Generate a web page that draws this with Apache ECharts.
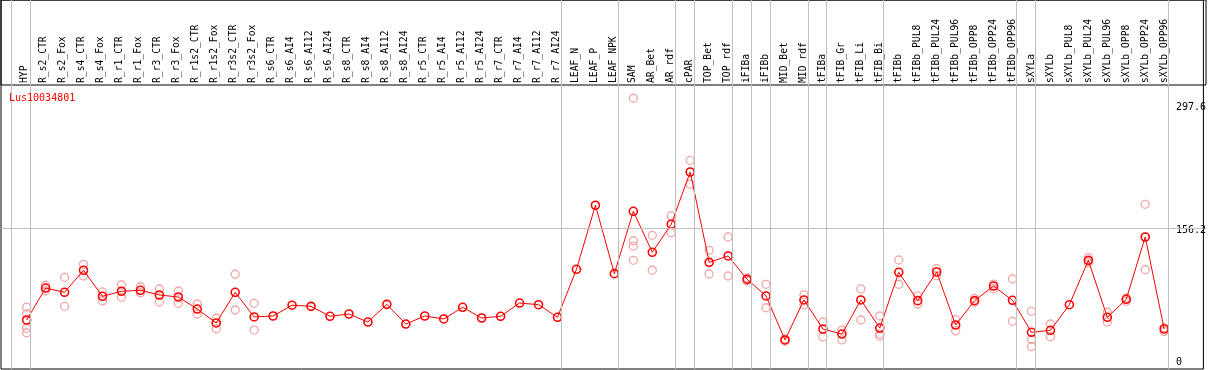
<!DOCTYPE html>
<html>
<head>
<meta charset="utf-8">
<script src="https://cdn.jsdelivr.net/npm/echarts@6/dist/echarts.min.js"></script>
<style>
html,body{margin:0;padding:0;background:#fff;}
#chart{width:1209px;height:370px;}
</style>
</head>
<body>
<div id="chart"></div>
<script>
const geneName = 'Lus10034801';
const categories = ['HYP','R_s2_CTR','R_s2_Fox','R_s4_CTR','R_s4_Fox','R_r1_CTR','R_r1_Fox','R_r3_CTR','R_r3_Fox',
  'R_r1s2_CTR','R_r1s2_Fox','R_r3s2_CTR','R_r3s2_Fox','R_s6_CTR','R_s6_AI4','R_s6_AI12','R_s6_AI24',
  'R_s8_CTR','R_s8_AI4','R_s8_AI12','R_s8_AI24','R_r5_CTR','R_r5_AI4','R_r5_AI12','R_r5_AI24',
  'R_r7_CTR','R_r7_AI4','R_r7_AI12','R_r7_AI24','LEAF_N','LEAF_P','LEAF_NPK','SAM','AR_Bet','AR_rdf',
  'cPAR','TOP_Bet','TOP_rdf','iFIBa','iFIBb','MID_Bet','MID_rdf','tFIBa','tFIB_Gr','tFIB_Li','tFIB_Bi',
  'tFIBb','tFIBb_PUL8','tFIBb_PUL24','tFIBb_PUL96','tFIBb_OPP8','tFIBb_OPP24','tFIBb_OPP96',
  'sXYLa','sXYLb','sXYLb_PUL8','sXYLb_PUL24','sXYLb_PUL96','sXYLb_OPP8','sXYLb_OPP24','sXYLb_OPP96'];
const means = [51.4,88.1,83.2,108.5,78.6,84.4,85.5,80.1,77.8,64.0,48.0,83.2,54.9,56.0,68.4,67.1,55.7,
  58.3,49.1,69.4,46.8,56.0,52.6,66.0,53.7,55.7,70.9,69.0,54.5,109.6,183.1,104.6,176.2,129.1,161.3,
  221.3,117.6,124.9,98.1,79.0,28.5,74.4,41.1,35.3,74.4,42.2,106.2,73.6,106.5,45.7,73.6,90.4,74.0,
  37.3,39.6,69.0,119.9,54.5,75.2,146.7,41.1];
const replicates = [
  [66.3,58.3,41.9,36.8],[91.3,85.0],[100.4,67.1],[115.3,101.9],[83.6,73.2],[91.6,77.5],[89.6,82.7],
  [87.0,72.1],[84.7,70.6],[69.8,58.3],[53.4,41.4],[103.9,62.9],[70.6,39.9],
  [],[],[],[],[],[],[],[],[],[],[],[],[],[],[],[],
  [],[],[],[305.9,142.4,136.3,119.9],[148.6,108.5],[170.8,151.6],[234.7,207.2],[131.4,104.2],[146.7,101.9],
  [99.6,96.2],[92.4,65.5],[29.6,27.3],[80.3,68.6],[49.1,31.9],[39.9,28.5],[87.0,51.4],[56.0,35.3,33.0],
  [120.3,92.4],[79.0,69.8],[110.3,102.3],[51.8,39.1],[76.3,71.7],[92.7,87.3],[98.5,49.9],
  [61.4,29.3,20.8],[46.8,32.3],[],[123.4,117.2],[60.3,49.1],[76.7,72.9],[184.2,109.1],[42.6,38.4]
];
const separatorAfter = [-1,0,28,31,34,35,37,38,39,41,42,45,52,53,60];
const yLabelValues = [0,156.2,297.6];

const lineData = means.map((v,i)=>[i,v]);
const repData = [];
replicates.forEach((arr,i)=>arr.forEach(v=>repData.push([i,v])));

const FONT = 'DejaVu Sans Mono';
const GRAY = '#c0c0c0';

const chart = echarts.init(document.getElementById('chart'), null, {renderer:'canvas'});
chart.setOption({
  animation:false,
  backgroundColor:'#fff',
  title:{text:geneName,left:9,top:93,padding:0,
    textStyle:{color:'#ff0000',fontFamily:FONT,fontSize:10,fontWeight:'normal'}},
  grid:[
    {left:1,right:3,top:0,bottom:1,show:true,borderColor:'#000',borderWidth:1,backgroundColor:'transparent'},
    {left:1,right:3,top:0,height:85,show:true,borderColor:'#000',borderWidth:1,backgroundColor:'transparent'},
    {left:14.7,right:35.3,top:0,height:83}
  ],
  xAxis:[
    {type:'value',gridIndex:0,min:-1.3526,max:62.0684,show:false},
    {type:'value',gridIndex:1,show:false},
    {type:'category',gridIndex:2,data:categories,position:'bottom',boundaryGap:true,
      axisLine:{show:false},axisTick:{show:false},splitLine:{show:false},
      axisLabel:{inside:true,rotate:90,margin:0,interval:0,fontFamily:FONT,fontSize:9.7,color:'#000'}}
  ],
  yAxis:[
    {type:'value',gridIndex:0,min:-4.82,max:418.69,position:'right',
      axisLine:{show:false},axisTick:{show:false},splitLine:{show:false},
      axisLabel:{customValues:yLabelValues,inside:true,align:'left',margin:27.5,color:'#000',
        fontFamily:FONT,fontSize:10,
        formatter:function(v){return v===0?'{b|0}':'{a|'+v+'}';},
        rich:{a:{fontFamily:FONT,fontSize:10,color:'#000',padding:[4,0,0,0]},
              b:{fontFamily:FONT,fontSize:10,color:'#000',padding:[0,0,5,0]}}}},
    {type:'value',gridIndex:1,show:false},
    {type:'value',gridIndex:2,show:false}
  ],
  series:[
    {type:'scatter',xAxisIndex:0,yAxisIndex:0,data:[[0,-100]],symbolSize:0,silent:true,
      markLine:{silent:true,symbol:['none','none'],label:{show:false},animation:false,
        lineStyle:{type:'solid',color:GRAY,width:1},
        data:separatorAfter.map(i=>({xAxis:i+0.2})).concat([{yAxis:156.2}])}},
    {type:'scatter',xAxisIndex:0,yAxisIndex:0,data:repData,symbol:'circle',symbolSize:8,
      itemStyle:{color:'rgba(0,0,0,0)',borderColor:'#ef9090',borderWidth:1.3},z:3},
    {type:'line',xAxisIndex:0,yAxisIndex:0,data:lineData,symbol:'circle',symbolSize:8,
      lineStyle:{color:'#ff0000',width:1},
      itemStyle:{color:'rgba(0,0,0,0)',borderColor:'#ff0000',borderWidth:1.6},z:4}
  ]
});
</script>
</body>
</html>
